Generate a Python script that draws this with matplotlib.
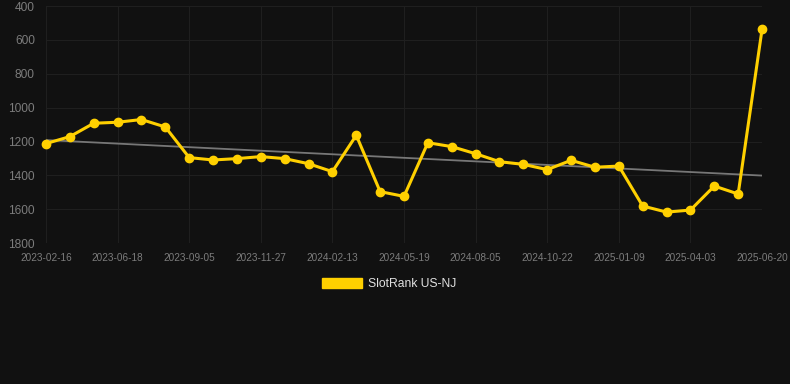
"""SlotRank US-NJ rank history with linear trend."""
import numpy as np
import matplotlib
matplotlib.use("Agg")
import matplotlib.pyplot as plt
from matplotlib.patches import Patch

BG = "#111111"
GOLD = "#FFD000"

# rank per snapshot (31 snapshots, lower is better)
ranks = [
    1212, 1171, 1092, 1086, 1070, 1114, 1295, 1309, 1301, 1289,
    1301, 1331, 1378, 1163, 1496, 1524, 1207, 1230, 1272, 1319,
    1335, 1366, 1311, 1352, 1345, 1581, 1617, 1605, 1463, 1510, 538,
]
tick_idx = [0, 3, 6, 9, 12, 15, 18, 21, 24, 27, 30]
tick_labels = [
    "2023-02-16", "2023-06-18", "2023-09-05", "2023-11-27", "2024-02-13",
    "2024-05-19", "2024-08-05", "2024-10-22", "2025-01-09", "2025-04-03",
    "2025-06-20",
]
y_ticks = [400, 600, 800, 1000, 1200, 1400, 1600, 1800]

plt.rcParams["font.family"] = ["Liberation Sans", "DejaVu Sans"]

fig = plt.figure(figsize=(7.9, 3.84), dpi=100, facecolor=BG)
ax = fig.add_axes([0.0582, 0.367, 0.9064, 0.617])
ax.set_facecolor(BG)

x = np.arange(len(ranks))
slope, intercept = np.polyfit(x, ranks, 1)
ax.plot(x, slope * x + intercept, color="#777777", linewidth=1.3, zorder=2)
ax.plot(x, ranks, color=GOLD, linewidth=2.2, marker="o", markersize=6,
        zorder=3, clip_on=False)

ax.set_xlim(0, len(ranks) - 1)
ax.set_ylim(1800, 400)
ax.set_yticks(y_ticks)
ax.set_xticks(tick_idx)
ax.set_xticklabels(tick_labels)
ax.tick_params(axis="y", colors="#7c7c7c", labelsize=8.6, length=0, pad=8)
ax.tick_params(axis="x", colors="#7c7c7c", labelsize=7.2, length=0, pad=7)
ax.grid(color="#1f1f1f", linewidth=0.8)
for spine in ax.spines.values():
    spine.set_visible(False)

handle = Patch(facecolor=GOLD, edgecolor=GOLD)
fig.legend([handle], ["SlotRank US-NJ"], loc="center", bbox_to_anchor=(0.493, 0.26),
           frameon=False, fontsize=8.7, labelcolor="#e0e0e0",
           handlelength=3.3, handleheight=0.95, handletextpad=0.5)

fig.savefig("out.png", dpi=100, facecolor=BG)
